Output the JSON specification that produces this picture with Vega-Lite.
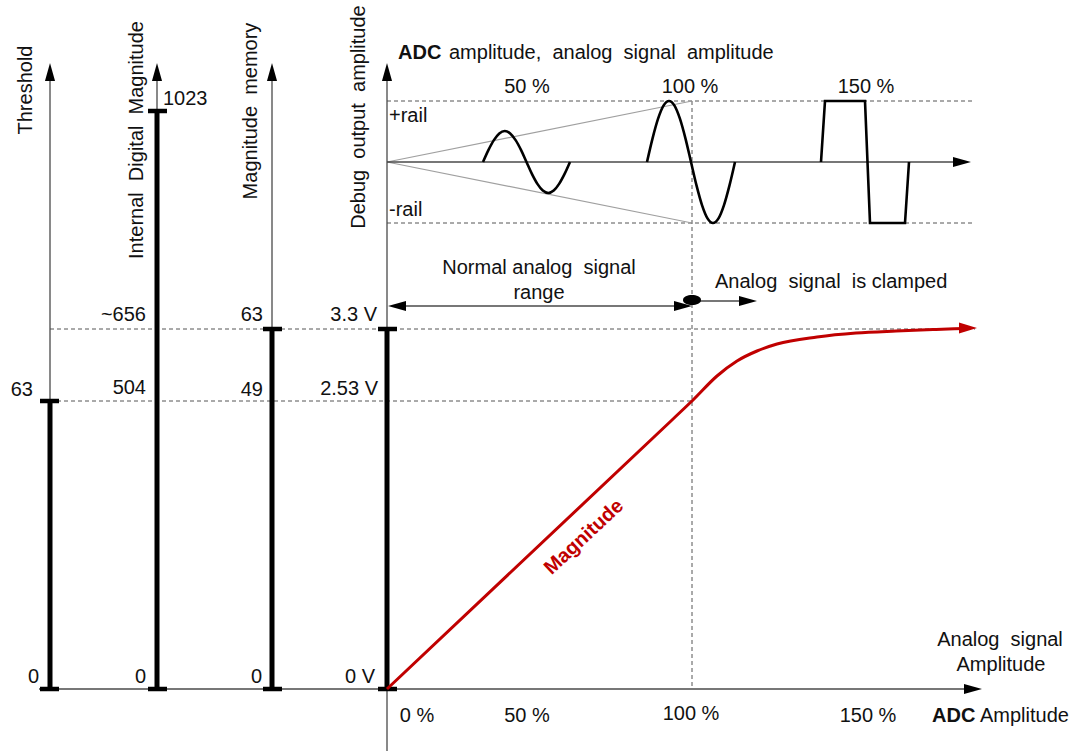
{
  "$schema": "https://vega.github.io/schema/vega-lite/v6.json",
  "width": 1076,
  "height": 751,
  "autosize": {"type": "none"},
  "padding": 0,
  "background": "white",
  "config": {
    "view": {"stroke": null},
    "text": {"font": "Liberation Sans", "fontSize": 20, "color": "#111111", "baseline": "middle"}
  },
  "datasets": {
    "dashed": [
      {"x": 50, "y": 329, "x2": 975, "y2": 329},
      {"x": 50, "y": 401, "x2": 692, "y2": 401},
      {"x": 387, "y": 101, "x2": 975, "y2": 101},
      {"x": 387, "y": 223, "x2": 975, "y2": 223},
      {"x": 692, "y": 101, "x2": 692, "y2": 689}
    ],
    "faint": [
      {"x": 387, "y": 162, "x2": 692, "y2": 101},
      {"x": 387, "y": 162, "x2": 692, "y2": 223}
    ],
    "thin": [
      {"x": 50, "y": 689, "x2": 50, "y2": 70},
      {"x": 157, "y": 689, "x2": 157, "y2": 70},
      {"x": 272, "y": 689, "x2": 272, "y2": 70},
      {"x": 387, "y": 751, "x2": 387, "y2": 70},
      {"x": 39, "y": 689, "x2": 970, "y2": 689},
      {"x": 387, "y": 162, "x2": 960, "y2": 162},
      {"x": 395, "y": 306, "x2": 685, "y2": 306},
      {"x": 692, "y": 301, "x2": 745, "y2": 301}
    ],
    "bars": [
      {"x": 50, "y": 401, "x2": 50, "y2": 689},
      {"x": 157, "y": 111, "x2": 157, "y2": 689},
      {"x": 272, "y": 329, "x2": 272, "y2": 689},
      {"x": 387, "y": 329, "x2": 387, "y2": 689}
    ],
    "caps": [
      {"x": 40, "y": 401, "x2": 59, "y2": 401},
      {"x": 40, "y": 689, "x2": 59, "y2": 689},
      {"x": 148, "y": 111, "x2": 167, "y2": 111},
      {"x": 148, "y": 689, "x2": 167, "y2": 689},
      {"x": 263, "y": 329, "x2": 282, "y2": 329},
      {"x": 263, "y": 689, "x2": 282, "y2": 689},
      {"x": 378, "y": 329, "x2": 397, "y2": 329},
      {"x": 378, "y": 689, "x2": 397, "y2": 689}
    ],
    "sines": [
      {"wave": "50%", "o": 0, "x": 483, "y": 162},
      {"wave": "50%", "o": 1, "x": 488.4, "y": 150.1},
      {"wave": "50%", "o": 2, "x": 493.9, "y": 140.1},
      {"wave": "50%", "o": 3, "x": 499.3, "y": 133.4},
      {"wave": "50%", "o": 4, "x": 504.8, "y": 131},
      {"wave": "50%", "o": 5, "x": 510.2, "y": 133.4},
      {"wave": "50%", "o": 6, "x": 515.6, "y": 140.1},
      {"wave": "50%", "o": 7, "x": 521.1, "y": 150.1},
      {"wave": "50%", "o": 8, "x": 526.5, "y": 162},
      {"wave": "50%", "o": 9, "x": 531.9, "y": 173.9},
      {"wave": "50%", "o": 10, "x": 537.4, "y": 183.9},
      {"wave": "50%", "o": 11, "x": 542.8, "y": 190.6},
      {"wave": "50%", "o": 12, "x": 548.3, "y": 193},
      {"wave": "50%", "o": 13, "x": 553.7, "y": 190.6},
      {"wave": "50%", "o": 14, "x": 559.1, "y": 183.9},
      {"wave": "50%", "o": 15, "x": 564.6, "y": 173.9},
      {"wave": "50%", "o": 16, "x": 570, "y": 162},
      {"wave": "100%", "o": 0, "x": 647, "y": 162},
      {"wave": "100%", "o": 1, "x": 652.5, "y": 138.6},
      {"wave": "100%", "o": 2, "x": 658, "y": 118.9},
      {"wave": "100%", "o": 3, "x": 663.5, "y": 105.6},
      {"wave": "100%", "o": 4, "x": 669, "y": 101},
      {"wave": "100%", "o": 5, "x": 674.5, "y": 105.6},
      {"wave": "100%", "o": 6, "x": 680, "y": 118.9},
      {"wave": "100%", "o": 7, "x": 685.5, "y": 138.6},
      {"wave": "100%", "o": 8, "x": 691, "y": 162},
      {"wave": "100%", "o": 9, "x": 696.5, "y": 185.4},
      {"wave": "100%", "o": 10, "x": 702, "y": 205.1},
      {"wave": "100%", "o": 11, "x": 707.5, "y": 218.4},
      {"wave": "100%", "o": 12, "x": 713, "y": 223},
      {"wave": "100%", "o": 13, "x": 718.5, "y": 218.4},
      {"wave": "100%", "o": 14, "x": 724, "y": 205.1},
      {"wave": "100%", "o": 15, "x": 729.5, "y": 185.4},
      {"wave": "100%", "o": 16, "x": 735, "y": 162}
    ],
    "clipped": [
      {"o": 0, "x": 821, "y": 162},
      {"o": 1, "x": 825, "y": 101},
      {"o": 2, "x": 865, "y": 101},
      {"o": 3, "x": 870, "y": 223},
      {"o": 4, "x": 905, "y": 223},
      {"o": 5, "x": 909, "y": 162}
    ],
    "magnitude": [
      {"o": 0, "x": 387, "y": 689},
      {"o": 1, "x": 672, "y": 420},
      {"o": 2, "x": 693, "y": 400},
      {"o": 3, "x": 717, "y": 376},
      {"o": 4, "x": 737, "y": 361},
      {"o": 5, "x": 757, "y": 351},
      {"o": 6, "x": 777, "y": 344},
      {"o": 7, "x": 817, "y": 337},
      {"o": 8, "x": 856, "y": 333},
      {"o": 9, "x": 896, "y": 331},
      {"o": 10, "x": 936, "y": 329.5},
      {"o": 11, "x": 965, "y": 328.5}
    ],
    "upHeads": [
      {"x": 50, "y": 63}, {"x": 157, "y": 63}, {"x": 272, "y": 63}, {"x": 387, "y": 63}
    ],
    "rightHeads": [
      {"x": 982, "y": 689}, {"x": 971, "y": 162}, {"x": 692, "y": 306}, {"x": 757, "y": 301}
    ],
    "leftHeads": [
      {"x": 388, "y": 306}
    ],
    "redHeads": [
      {"x": 977, "y": 328}
    ],
    "blob": [
      {"x": 692, "y": 300}
    ],
    "titles": [
      {"label": "Threshold", "x": 26, "y": 90},
      {"label": "Internal \u00a0Digital \u00a0Magnitude", "x": 137, "y": 140},
      {"label": "Magnitude \u00a0memory", "x": 251, "y": 111},
      {"label": "Debug \u00a0output \u00a0amplitude", "x": 359, "y": 117}
    ],
    "leftText": [
      {"label": "1023", "x": 163, "y": 99},
      {"label": "+rail", "x": 389, "y": 116},
      {"label": "-rail", "x": 389, "y": 210},
      {"label": "amplitude, \u00a0analog \u00a0signal \u00a0amplitude", "x": 449, "y": 53},
      {"label": "Analog \u00a0signal \u00a0is clamped", "x": 715, "y": 282},
      {"label": "Amplitude", "x": 980, "y": 716}
    ],
    "boldText": [
      {"label": "ADC", "x": 398, "y": 53},
      {"label": "ADC", "x": 932, "y": 716}
    ],
    "rightText": [
      {"label": "~656", "x": 146, "y": 315},
      {"label": "504", "x": 146, "y": 388},
      {"label": "3.3 V", "x": 377, "y": 315},
      {"label": "2.53 V", "x": 378, "y": 389},
      {"label": "63", "x": 33, "y": 390},
      {"label": "63", "x": 263, "y": 315},
      {"label": "49", "x": 263, "y": 390},
      {"label": "0", "x": 39, "y": 677},
      {"label": "0", "x": 146, "y": 677},
      {"label": "0", "x": 262, "y": 677},
      {"label": "0 V", "x": 375, "y": 677}
    ],
    "centerText": [
      {"label": "50 %", "x": 527, "y": 87},
      {"label": "100 %", "x": 690, "y": 87},
      {"label": "150 %", "x": 866, "y": 87},
      {"label": "0 %", "x": 417, "y": 716},
      {"label": "50 %", "x": 527, "y": 716},
      {"label": "100 %", "x": 691, "y": 714},
      {"label": "150 %", "x": 868, "y": 716},
      {"label": "Normal analog \u00a0signal", "x": 539, "y": 268},
      {"label": "range", "x": 539, "y": 293},
      {"label": "Analog \u00a0signal", "x": 1000, "y": 640},
      {"label": "Amplitude", "x": 1001, "y": 665}
    ],
    "redText": [
      {"label": "Magnitude", "x": 584, "y": 537}
    ]
  },
  "layer": [
    {
      "data": {"name": "dashed"},
      "mark": {"type": "rule", "color": "#555555", "strokeWidth": 1, "strokeDash": [4, 3]},
      "encoding": {
        "x": {"field": "x", "type": "quantitative", "scale": {"domain": [0, 1076], "nice": false, "zero": false}, "axis": null},
        "y": {"field": "y", "type": "quantitative", "scale": {"domain": [0, 751], "reverse": true, "nice": false, "zero": false}, "axis": null},
        "x2": {"field": "x2"},
        "y2": {"field": "y2"}
      }
    },
    {
      "data": {"name": "faint"},
      "mark": {"type": "rule", "color": "#a0a0a0", "strokeWidth": 1.2},
      "encoding": {
        "x": {"field": "x", "type": "quantitative", "scale": {"domain": [0, 1076], "nice": false, "zero": false}, "axis": null},
        "y": {"field": "y", "type": "quantitative", "scale": {"domain": [0, 751], "reverse": true, "nice": false, "zero": false}, "axis": null},
        "x2": {"field": "x2"},
        "y2": {"field": "y2"}
      }
    },
    {
      "data": {"name": "thin"},
      "mark": {"type": "rule", "color": "#4a4a4a", "strokeWidth": 1.3},
      "encoding": {
        "x": {"field": "x", "type": "quantitative", "scale": {"domain": [0, 1076], "nice": false, "zero": false}, "axis": null},
        "y": {"field": "y", "type": "quantitative", "scale": {"domain": [0, 751], "reverse": true, "nice": false, "zero": false}, "axis": null},
        "x2": {"field": "x2"},
        "y2": {"field": "y2"}
      }
    },
    {
      "data": {"name": "bars"},
      "mark": {"type": "rule", "color": "black", "strokeWidth": 5},
      "encoding": {
        "x": {"field": "x", "type": "quantitative", "scale": {"domain": [0, 1076], "nice": false, "zero": false}, "axis": null},
        "y": {"field": "y", "type": "quantitative", "scale": {"domain": [0, 751], "reverse": true, "nice": false, "zero": false}, "axis": null},
        "x2": {"field": "x2"},
        "y2": {"field": "y2"}
      }
    },
    {
      "data": {"name": "caps"},
      "mark": {"type": "rule", "color": "black", "strokeWidth": 4.5},
      "encoding": {
        "x": {"field": "x", "type": "quantitative", "scale": {"domain": [0, 1076], "nice": false, "zero": false}, "axis": null},
        "y": {"field": "y", "type": "quantitative", "scale": {"domain": [0, 751], "reverse": true, "nice": false, "zero": false}, "axis": null},
        "x2": {"field": "x2"},
        "y2": {"field": "y2"}
      }
    },
    {
      "data": {"name": "sines"},
      "mark": {"type": "line", "color": "black", "strokeWidth": 2.6, "interpolate": "monotone"},
      "encoding": {
        "x": {"field": "x", "type": "quantitative", "scale": {"domain": [0, 1076], "nice": false, "zero": false}, "axis": null},
        "y": {"field": "y", "type": "quantitative", "scale": {"domain": [0, 751], "reverse": true, "nice": false, "zero": false}, "axis": null},
        "detail": {"field": "wave", "type": "nominal"},
        "order": {"field": "o", "type": "quantitative"}
      }
    },
    {
      "data": {"name": "clipped"},
      "mark": {"type": "line", "color": "black", "strokeWidth": 2.6},
      "encoding": {
        "x": {"field": "x", "type": "quantitative", "scale": {"domain": [0, 1076], "nice": false, "zero": false}, "axis": null},
        "y": {"field": "y", "type": "quantitative", "scale": {"domain": [0, 751], "reverse": true, "nice": false, "zero": false}, "axis": null},
        "order": {"field": "o", "type": "quantitative"}
      }
    },
    {
      "data": {"name": "magnitude"},
      "mark": {"type": "line", "color": "#c00000", "strokeWidth": 3, "interpolate": "monotone"},
      "encoding": {
        "x": {"field": "x", "type": "quantitative", "scale": {"domain": [0, 1076], "nice": false, "zero": false}, "axis": null},
        "y": {"field": "y", "type": "quantitative", "scale": {"domain": [0, 751], "reverse": true, "nice": false, "zero": false}, "axis": null},
        "order": {"field": "o", "type": "quantitative"}
      }
    },
    {
      "data": {"name": "upHeads"},
      "mark": {"type": "point", "shape": "M0,0L0.28,1L-0.28,1Z", "size": 1296, "filled": true, "color": "black", "opacity": 1, "strokeWidth": 0},
      "encoding": {
        "x": {"field": "x", "type": "quantitative", "scale": {"domain": [0, 1076], "nice": false, "zero": false}, "axis": null},
        "y": {"field": "y", "type": "quantitative", "scale": {"domain": [0, 751], "reverse": true, "nice": false, "zero": false}, "axis": null}
      }
    },
    {
      "data": {"name": "rightHeads"},
      "mark": {"type": "point", "shape": "M0,0L-1,-0.28L-1,0.28Z", "size": 1296, "filled": true, "color": "black", "opacity": 1, "strokeWidth": 0},
      "encoding": {
        "x": {"field": "x", "type": "quantitative", "scale": {"domain": [0, 1076], "nice": false, "zero": false}, "axis": null},
        "y": {"field": "y", "type": "quantitative", "scale": {"domain": [0, 751], "reverse": true, "nice": false, "zero": false}, "axis": null}
      }
    },
    {
      "data": {"name": "leftHeads"},
      "mark": {"type": "point", "shape": "M0,0L1,-0.28L1,0.28Z", "size": 1296, "filled": true, "color": "black", "opacity": 1, "strokeWidth": 0},
      "encoding": {
        "x": {"field": "x", "type": "quantitative", "scale": {"domain": [0, 1076], "nice": false, "zero": false}, "axis": null},
        "y": {"field": "y", "type": "quantitative", "scale": {"domain": [0, 751], "reverse": true, "nice": false, "zero": false}, "axis": null}
      }
    },
    {
      "data": {"name": "redHeads"},
      "mark": {"type": "point", "shape": "M0,0L-1,-0.3L-1,0.3Z", "size": 1296, "filled": true, "color": "#c00000", "opacity": 1, "strokeWidth": 0},
      "encoding": {
        "x": {"field": "x", "type": "quantitative", "scale": {"domain": [0, 1076], "nice": false, "zero": false}, "axis": null},
        "y": {"field": "y", "type": "quantitative", "scale": {"domain": [0, 751], "reverse": true, "nice": false, "zero": false}, "axis": null}
      }
    },
    {
      "data": {"name": "blob"},
      "mark": {"type": "point", "shape": "M-1,0C-1,-0.74 1,-0.74 1,0C1,0.74 -1,0.74 -1,0Z", "size": 324, "filled": true, "color": "black", "opacity": 1, "strokeWidth": 0},
      "encoding": {
        "x": {"field": "x", "type": "quantitative", "scale": {"domain": [0, 1076], "nice": false, "zero": false}, "axis": null},
        "y": {"field": "y", "type": "quantitative", "scale": {"domain": [0, 751], "reverse": true, "nice": false, "zero": false}, "axis": null}
      }
    },
    {
      "data": {"name": "titles"},
      "mark": {"type": "text", "angle": 270, "align": "center"},
      "encoding": {
        "x": {"field": "x", "type": "quantitative", "scale": {"domain": [0, 1076], "nice": false, "zero": false}, "axis": null},
        "y": {"field": "y", "type": "quantitative", "scale": {"domain": [0, 751], "reverse": true, "nice": false, "zero": false}, "axis": null},
        "text": {"field": "label"}
      }
    },
    {
      "data": {"name": "leftText"},
      "mark": {"type": "text", "align": "left"},
      "encoding": {
        "x": {"field": "x", "type": "quantitative", "scale": {"domain": [0, 1076], "nice": false, "zero": false}, "axis": null},
        "y": {"field": "y", "type": "quantitative", "scale": {"domain": [0, 751], "reverse": true, "nice": false, "zero": false}, "axis": null},
        "text": {"field": "label"}
      }
    },
    {
      "data": {"name": "boldText"},
      "mark": {"type": "text", "align": "left", "fontWeight": "bold"},
      "encoding": {
        "x": {"field": "x", "type": "quantitative", "scale": {"domain": [0, 1076], "nice": false, "zero": false}, "axis": null},
        "y": {"field": "y", "type": "quantitative", "scale": {"domain": [0, 751], "reverse": true, "nice": false, "zero": false}, "axis": null},
        "text": {"field": "label"}
      }
    },
    {
      "data": {"name": "rightText"},
      "mark": {"type": "text", "align": "right"},
      "encoding": {
        "x": {"field": "x", "type": "quantitative", "scale": {"domain": [0, 1076], "nice": false, "zero": false}, "axis": null},
        "y": {"field": "y", "type": "quantitative", "scale": {"domain": [0, 751], "reverse": true, "nice": false, "zero": false}, "axis": null},
        "text": {"field": "label"}
      }
    },
    {
      "data": {"name": "centerText"},
      "mark": {"type": "text", "align": "center"},
      "encoding": {
        "x": {"field": "x", "type": "quantitative", "scale": {"domain": [0, 1076], "nice": false, "zero": false}, "axis": null},
        "y": {"field": "y", "type": "quantitative", "scale": {"domain": [0, 751], "reverse": true, "nice": false, "zero": false}, "axis": null},
        "text": {"field": "label"}
      }
    },
    {
      "data": {"name": "redText"},
      "mark": {"type": "text", "align": "center", "angle": 317, "fontWeight": "bold", "fontSize": 20, "color": "#c00000"},
      "encoding": {
        "x": {"field": "x", "type": "quantitative", "scale": {"domain": [0, 1076], "nice": false, "zero": false}, "axis": null},
        "y": {"field": "y", "type": "quantitative", "scale": {"domain": [0, 751], "reverse": true, "nice": false, "zero": false}, "axis": null},
        "text": {"field": "label"}
      }
    }
  ]
}
